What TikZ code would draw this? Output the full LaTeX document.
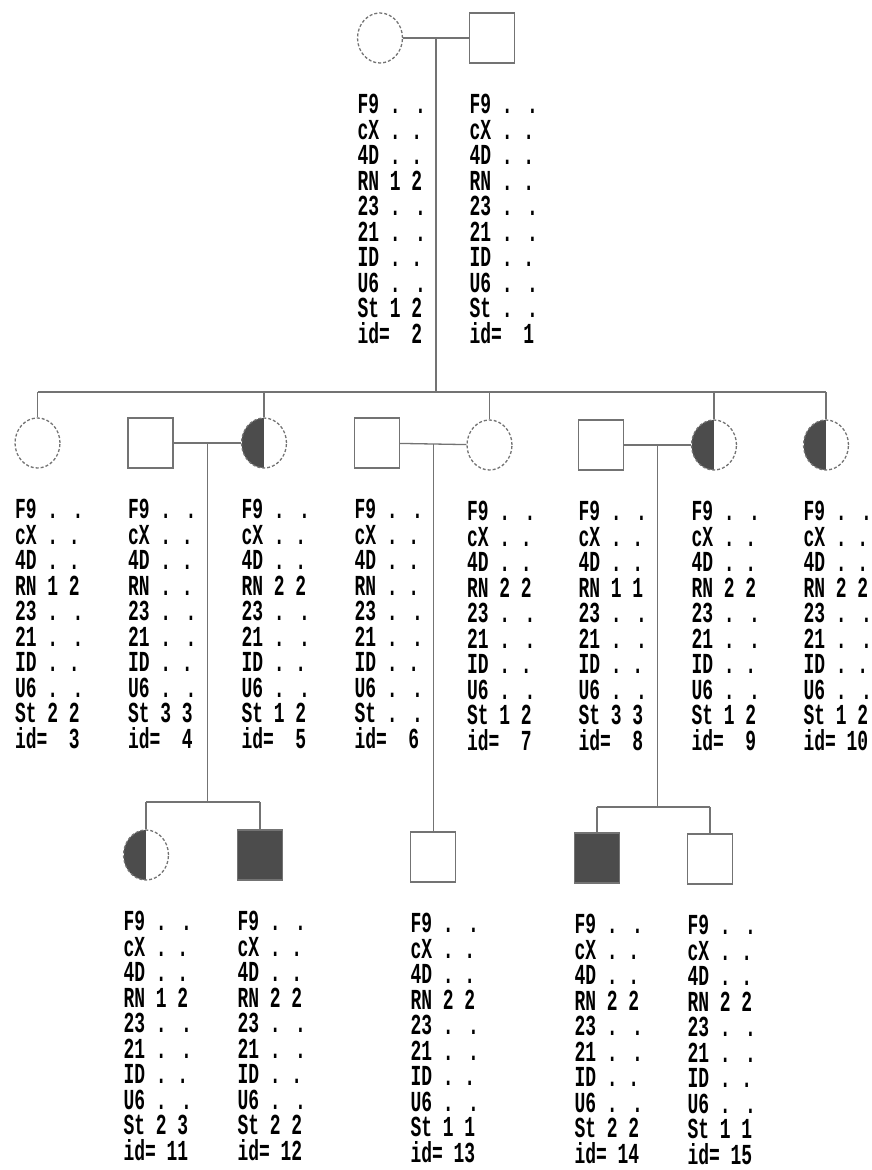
\documentclass[tikz,border=0pt]{standalone}
\usepackage{fontspec}
\newfontfamily\dotfont[FakeStretch=0.62]{Liberation Mono}
\usetikzlibrary{positioning,shapes.geometric}
\newcommand{\typing}[3]{F9 . .\\cX . .\\4D . .\\RN #1\\23 . .\\21 . .\\ID . .\\U6 . .\\St #2\\id=~#3}

\begin{document}
\begin{tikzpicture}[x=1pt, y=1pt, line width=1.3pt,
    line/.style={draw=black!55},
    female/.style={draw=black!55, densely dashed, ellipse, inner sep=0pt, minimum width=45pt, minimum height=50pt},
    male/.style={draw=black!55, rectangle, inner sep=0pt, minimum width=45pt, minimum height=50pt},
    carrier/.style={path picture={\fill[black!70] (path picture bounding box.north west) rectangle (path picture bounding box.south);}},
    affected/.style={fill=black!70},
    typing/.style={anchor=north west, yshift=-30pt, inner sep=0pt, align=left, font=\dotfont\bfseries\fontsize{29pt}{25.5pt}\selectfont}]
    \useasboundingbox (0,0) rectangle (871,-1170);

    % first generation
    \node (p2) [female] at (380,-38) {};
    \node (p1) [male] at (492,-38) {};
    \node (g2) [typing] at (p2.west |- p2.south) {\typing{1 2}{1 2}{~2}};
    \node (g1) [typing] at (p1.west |- p1.south) {\typing{. .}{. .}{~1}};

    % second generation
    \node (p3) [female] at (37.5,-443) {};
    \node (p4) [male] at (150.5,-443) {};
    \node (p5) [female, carrier] at (264,-443) {};
    \node (p6) [male] at (377,-443) {};
    \node (p7) [female] at (489.5,-445) {};
    \node (p8) [male] at (601,-445) {};
    \node (p9) [female, carrier] at (714,-445) {};
    \node (p10) [female, carrier] at (826,-445) {};
    \node (g3) [typing] at (p3.west |- p3.south) {\typing{1 2}{2 2}{~3}};
    \node (g4) [typing] at (p4.west |- p4.south) {\typing{. .}{3 3}{~4}};
    \node (g5) [typing] at (p5.west |- p5.south) {\typing{2 2}{1 2}{~5}};
    \node (g6) [typing] at (p6.west |- p6.south) {\typing{. .}{. .}{~6}};
    \node (g7) [typing] at (p7.west |- p7.south) {\typing{2 2}{1 2}{~7}};
    \node (g8) [typing] at (p8.west |- p8.south) {\typing{1 1}{3 3}{~8}};
    \node (g9) [typing] at (p9.west |- p9.south) {\typing{2 2}{1 2}{~9}};
    \node (g10) [typing] at (p10.west |- p10.south) {\typing{2 2}{1 2}{10}};

    % third generation
    \node (p11) [female, carrier] at (146,-855) {};
    \node (p12) [male, affected] at (260,-855) {};
    \node (p13) [male] at (433,-857) {};
    \node (p14) [male, affected] at (597,-858) {};
    \node (p15) [male] at (710,-859) {};
    \node (g11) [typing] at (p11.west |- p11.south) {\typing{1 2}{2 3}{11}};
    \node (g12) [typing] at (p12.west |- p12.south) {\typing{2 2}{2 2}{12}};
    \node (g13) [typing] at (p13.west |- p13.south) {\typing{2 2}{1 1}{13}};
    \node (g14) [typing] at (p14.west |- p14.south) {\typing{2 2}{2 2}{14}};
    \node (g15) [typing] at (p15.west |- p15.south) {\typing{2 2}{1 1}{15}};

    \coordinate (row1) at (0,-392);
    \coordinate (row45) at (0,-802);
    \coordinate (row89) at (0,-807);

    % marriages
    \draw[line] (p2) -- coordinate[midway] (m12) (p1);
    \draw[line] (p4) -- coordinate[midway] (m45) (p5);
    \draw[line] (p6) -- coordinate[midway] (m67) (p7);
    \draw[line] (p8) -- coordinate[midway] (m89) (p9);

    % sibships
    \draw[line] (m12) -- (m12 |- row1);
    \draw[line] (p3 |- row1) -- (p10 |- row1);
    \draw[line] (p3 |- row1) -- (p3);
    \draw[line] (p5 |- row1) -- (p5);
    \draw[line] (p7 |- row1) -- (p7);
    \draw[line] (p9 |- row1) -- (p9);
    \draw[line] (p10 |- row1) -- (p10);

    \draw[line] (m45) -- (m45 |- row45);
    \draw[line] (p11 |- row45) -- (p12 |- row45);
    \draw[line] (p11 |- row45) -- (p11);
    \draw[line] (p12 |- row45) -- (p12);

    \draw[line] (m67) -- (m67 |- p13.north);

    \draw[line] (m89) -- (m89 |- row89);
    \draw[line] (p14 |- row89) -- (p15 |- row89);
    \draw[line] (p14 |- row89) -- (p14);
    \draw[line] (p15 |- row89) -- (p15);
\end{tikzpicture}
\end{document}
